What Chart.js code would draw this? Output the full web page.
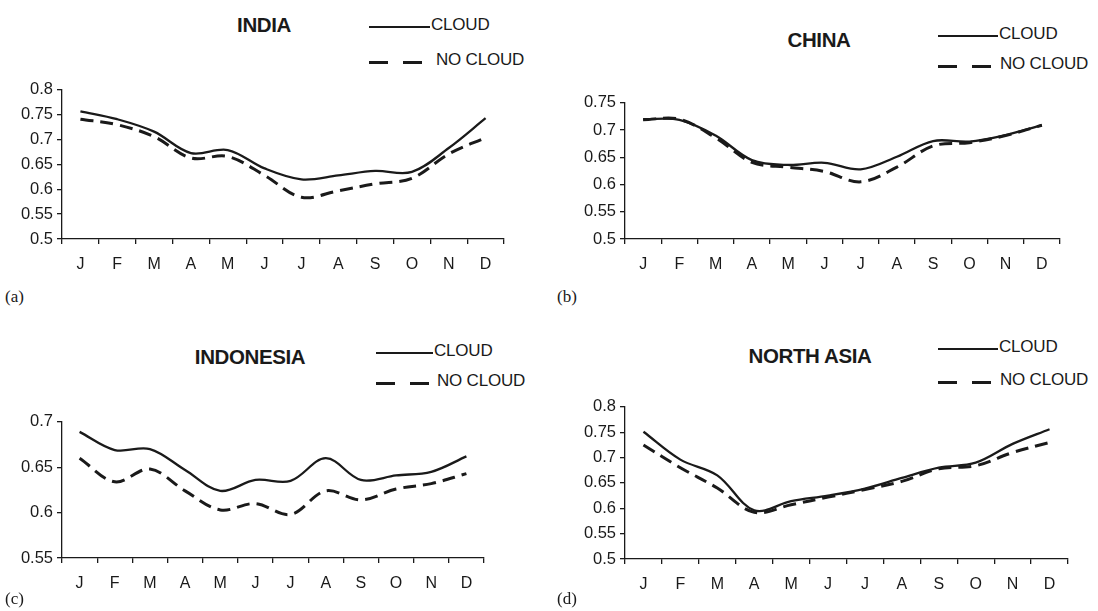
<!DOCTYPE html>
<html>
<head>
<meta charset="utf-8">
<script src="https://cdn.jsdelivr.net/npm/chart.js@4.4.1/dist/chart.umd.min.js"></script>
<style>
  html, body { margin: 0; padding: 0; background: #fff; }
  #page { position: relative; width: 1098px; height: 611px; overflow: hidden; background: #fff; }
  canvas.panel { position: absolute; }
  .title { position: absolute; font: bold 20.5px "Liberation Sans", Arial, sans-serif; color: #1a1a1a; transform: translate(-50%, -50%); white-space: nowrap; letter-spacing: -0.4px; }
  .leg { position: absolute; font: 17px "Liberation Sans", Arial, sans-serif; color: #1a1a1a; white-space: nowrap; transform: translateY(-50%); letter-spacing: -0.2px; }
  .swatch { position: absolute; }
  .swatch.solid { height: 2px; background: #1a1a1a; }
  .swatch.dash { height: 3px; background: repeating-linear-gradient(90deg, #1a1a1a 0 19px, transparent 19px 34px); }
  .tag { position: absolute; font: 17px "Liberation Serif", "Times New Roman", serif; color: #1a1a1a; }
</style>
</head>
<body>
<div id="page">
  <canvas id="cA" class="panel"></canvas>
  <canvas id="cB" class="panel"></canvas>
  <canvas id="cC" class="panel"></canvas>
  <canvas id="cD" class="panel"></canvas>
</div>
<script>
// Month initials on the category axis
const months = ['J', 'F', 'M', 'A', 'M', 'J', 'J', 'A', 'S', 'O', 'N', 'D'];

// Series labels
const seriesNames = ['CLOUD', 'NO CLOUD'];

// India
const indiaCloud   = [0.757, 0.741, 0.716, 0.673, 0.679, 0.642, 0.620, 0.628, 0.637, 0.635, 0.683, 0.743];
const indiaNoCloud = [0.741, 0.730, 0.706, 0.663, 0.666, 0.628, 0.584, 0.597, 0.611, 0.622, 0.671, 0.704];

// China
const chinaCloud   = [0.720, 0.719, 0.690, 0.645, 0.636, 0.640, 0.628, 0.651, 0.680, 0.679, 0.691, 0.709];
const chinaNoCloud = [0.719, 0.720, 0.686, 0.641, 0.632, 0.624, 0.605, 0.632, 0.671, 0.677, 0.690, 0.709];

// Indonesia
const indonesiaCloud   = [0.689, 0.669, 0.670, 0.647, 0.624, 0.636, 0.635, 0.660, 0.636, 0.641, 0.645, 0.662];
const indonesiaNoCloud = [0.660, 0.634, 0.648, 0.624, 0.603, 0.610, 0.598, 0.624, 0.614, 0.626, 0.632, 0.643];

// North Asia
const northAsiaCloud   = [0.751, 0.696, 0.665, 0.596, 0.614, 0.625, 0.639, 0.660, 0.680, 0.690, 0.727, 0.756];
const northAsiaNoCloud = [0.725, 0.680, 0.640, 0.592, 0.607, 0.622, 0.637, 0.653, 0.678, 0.684, 0.710, 0.730];

// Y-axis tick values for each panel
const yTicksA = [0.5, 0.55, 0.6, 0.65, 0.7, 0.75, 0.8];
const yTicksB = [0.5, 0.55, 0.6, 0.65, 0.7, 0.75];
const yTicksC = [0.55, 0.6, 0.65, 0.7];
const yTicksD = [0.5, 0.55, 0.6, 0.65, 0.7, 0.75, 0.8];

const ink = '#1a1a1a';
const fontFamily = '"Liberation Sans", Arial, sans-serif';

function buildPanel(cfg) {
  const page = document.getElementById('page');
  const cv = document.getElementById(cfg.id);
  cv.style.left = cfg.left + 'px';
  cv.style.top = cfg.top + 'px';
  cv.style.width = cfg.width + 'px';
  cv.style.height = cfg.height + 'px';
  cv.width = cfg.width;
  cv.height = cfg.height;

  const yMin = cfg.yTicks[0];
  const yMax = cfg.yTicks[cfg.yTicks.length - 1];

  new Chart(cv, {
    type: 'line',
    data: {
      labels: months,
      datasets: [
        { label: seriesNames[0], data: cfg.cloud, borderColor: ink, borderWidth: 2.3, tension: 0.35, pointRadius: 0, fill: false },
        { label: seriesNames[1], data: cfg.noCloud, borderColor: ink, borderWidth: 3, borderDash: [13, 7], tension: 0.35, pointRadius: 0, fill: false }
      ]
    },
    options: {
      responsive: false,
      animation: false,
      devicePixelRatio: 1,
      layout: { padding: { top: 12, right: cfg.padRight, bottom: 0, left: 0 } },
      plugins: { legend: { display: false }, title: { display: false }, tooltip: { enabled: false } },
      scales: {
        x: {
          type: 'category',
          offset: true,
          grid: { display: true, offset: true, drawOnChartArea: false, drawTicks: true, tickLength: 5, color: ink, lineWidth: 1.3 },
          border: { display: true, color: ink, width: 1.3 },
          ticks: { color: ink, font: { family: fontFamily, size: 16 }, padding: 11, maxRotation: 0, autoSkip: false },
          afterFit: s => { s.height = 39; }
        },
        y: {
          min: yMin,
          max: yMax,
          afterBuildTicks: s => { s.ticks = cfg.yTicks.map(v => ({ value: v })); },
          grid: { display: true, drawOnChartArea: false, drawTicks: true, tickLength: 5, color: ink, lineWidth: 1.3 },
          border: { display: true, color: ink, width: 1.3 },
          ticks: { color: ink, font: { family: fontFamily, size: 16.5 }, padding: 4, callback: v => String(+Number(v).toFixed(2)) },
          afterFit: s => { s.width = 62; }
        }
      }
    }
  });

  // Title, legend and panel tag as text
  const t = document.createElement('div');
  t.className = 'title';
  t.textContent = cfg.title;
  t.style.left = cfg.titleX + 'px';
  t.style.top = cfg.titleY + 'px';
  page.appendChild(t);

  const s1 = document.createElement('div');
  s1.className = 'swatch solid';
  s1.style.left = cfg.legX + 'px';
  s1.style.top = (cfg.legY1 + 1) + 'px';
  s1.style.width = cfg.solidLen + 'px';
  page.appendChild(s1);

  const l1 = document.createElement('div');
  l1.className = 'leg';
  l1.textContent = seriesNames[0];
  l1.style.left = (cfg.legX + cfg.solidLen + 1) + 'px';
  l1.style.top = cfg.legY1 + 'px';
  page.appendChild(l1);

  const s2 = document.createElement('div');
  s2.className = 'swatch dash';
  s2.style.left = cfg.legX + 'px';
  s2.style.top = (cfg.legY2 + 1) + 'px';
  s2.style.width = '53px';
  page.appendChild(s2);

  const l2 = document.createElement('div');
  l2.className = 'leg';
  l2.textContent = seriesNames[1];
  l2.style.left = (cfg.legX + cfg.noCloudGap) + 'px';
  l2.style.top = cfg.legY2 + 'px';
  page.appendChild(l2);

  const g = document.createElement('div');
  g.className = 'tag';
  g.textContent = cfg.tag;
  g.style.left = cfg.tagX + 'px';
  g.style.top = cfg.tagY + 'px';
  page.appendChild(g);
}

buildPanel({ id: 'cA', left: 0, top: 76, width: 540, height: 202, padRight: 36,
  yTicks: yTicksA, cloud: indiaCloud, noCloud: indiaNoCloud,
  title: 'INDIA', titleX: 264, titleY: 25, legX: 369, legY1: 25, legY2: 60, solidLen: 61, noCloudGap: 67,
  tag: '(a)', tagX: 5, tagY: 287 });

buildPanel({ id: 'cB', left: 563, top: 89, width: 535, height: 189, padRight: 38,
  yTicks: yTicksB, cloud: chinaCloud, noCloud: chinaNoCloud,
  title: 'CHINA', titleX: 819, titleY: 40, legX: 938, legY1: 34, legY2: 64, solidLen: 60, noCloudGap: 62,
  tag: '(b)', tagX: 557, tagY: 287 });

buildPanel({ id: 'cC', left: 0, top: 408, width: 520, height: 189, padRight: 36,
  yTicks: yTicksC, cloud: indonesiaCloud, noCloud: indonesiaNoCloud,
  title: 'INDONESIA', titleX: 250, titleY: 357, legX: 376, legY1: 351, legY2: 381, solidLen: 57, noCloudGap: 61,
  tag: '(c)', tagX: 5, tagY: 589 });

buildPanel({ id: 'cD', left: 563, top: 393, width: 535, height: 205, padRight: 30,
  yTicks: yTicksD, cloud: northAsiaCloud, noCloud: northAsiaNoCloud,
  title: 'NORTH ASIA', titleX: 810, titleY: 356, legX: 938, legY1: 347, legY2: 380, solidLen: 60, noCloudGap: 62,
  tag: '(d)', tagX: 557, tagY: 589 });
</script>
</body>
</html>
